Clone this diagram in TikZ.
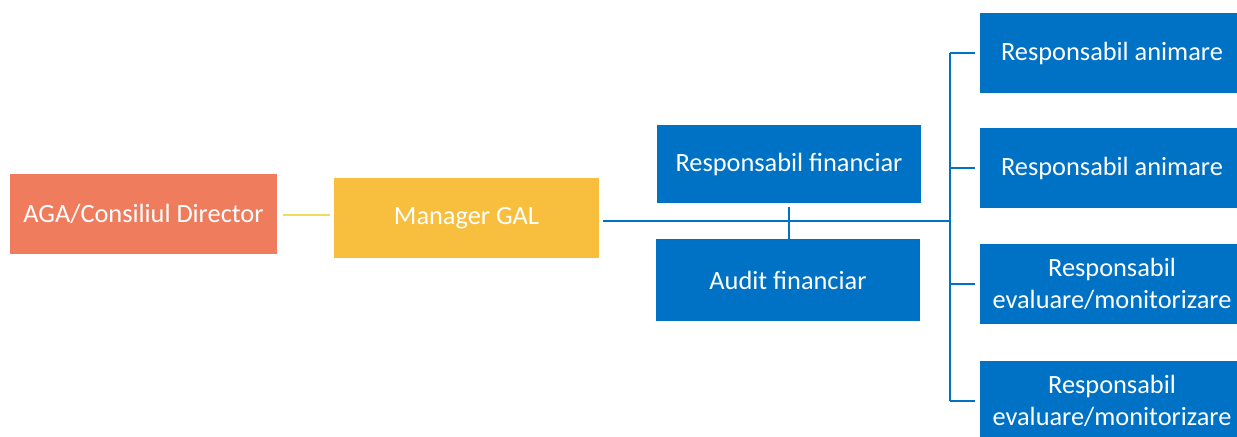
\documentclass[tikz,border=0pt]{standalone}
\usepackage{fontspec}
\setmainfont{Carlito}
\definecolor{saumon}{RGB}{240,124,94}
\definecolor{jaune}{RGB}{248,191,62}
\definecolor{trait}{RGB}{240,222,90}
\definecolor{bleu}{RGB}{0,114,198}
\begin{document}
\begin{tikzpicture}[x=0.02cm,y=-0.02cm,
    boite/.style={rectangle,text=white,font=\fontsize{15}{18}\selectfont,align=center,
                  minimum width=5.3cm,minimum height=1.62cm,inner sep=2pt},
    lien/.style={bleu,line width=1.6pt}]
    % Cadre
    \clip (0,0) rectangle (1237,436);
    \fill[white] (0,0) rectangle (1237,436);

    % Boites de gauche
    \node[boite,fill=saumon,minimum width=5.34cm] (aga) at (143.5,214) {AGA/Consiliul Director};
    \node[boite,fill=jaune] (man) at (466.5,218) {Manager GAL};

    % Boites du milieu
    \node[boite,fill=bleu,minimum height=1.56cm] (rf) at (789,164) {Responsabil financiar};
    \node[boite,fill=bleu,minimum height=1.64cm] (af) at (788,280) {Audit financiar};

    % Boites de droite
    \foreach \i/\y/\t in {1/53/{Responsabil animare},2/168/{Responsabil animare},
                          3/284/{Responsabil\\evaluare/monitorizare},4/401/{Responsabil\\evaluare/monitorizare}} {
        \node[boite,fill=bleu] (r\i) at (1112,\y) {\t};
    }

    % Liaisons
    \coordinate (bus) at (950,221);
    \coordinate (gauche) at (280,215);
    \coordinate (croix) at (789,221);
    \draw[trait,line width=1.1pt] ([xshift=0.12cm]aga.east |- gauche) -- ([xshift=-0.08cm]man.west |- gauche);
    \draw[lien] ([xshift=0.08cm]man.east |- bus) -- (bus);
    \draw[lien] ([yshift=-0.08cm]rf.south -| croix) -- (af.north -| croix);
    \draw[lien] (r1.west -| bus) -- (r4.west -| bus);
    \foreach \i in {1,...,4} {
        \draw[lien] (r\i.west -| bus) -- ([xshift=-0.08cm]r\i.west);
    }
\end{tikzpicture}
\end{document}
